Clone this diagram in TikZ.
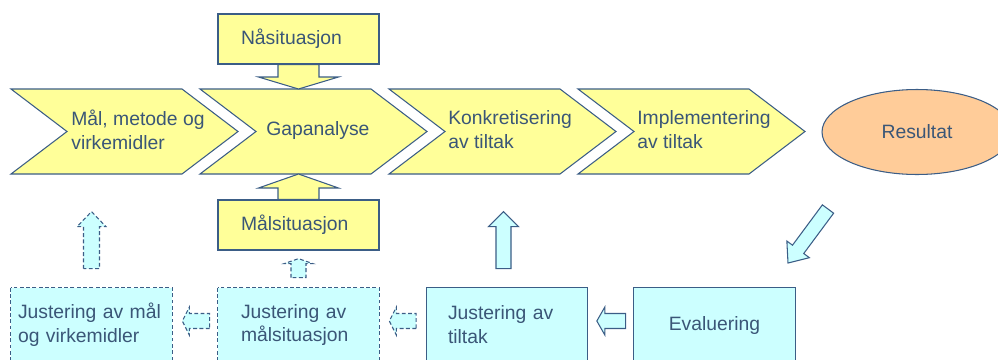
\documentclass[tikz,border=0pt]{standalone}
\usepackage{fontspec}
\setmainfont{Liberation Sans}
\usetikzlibrary{calc,shapes.geometric,backgrounds}
\definecolor{edge}{HTML}{3B5D86}
\definecolor{txt}{HTML}{3A5677}
\definecolor{gul}{HTML}{FFFF99}
\definecolor{lyseblaa}{HTML}{CCFFFF}
\definecolor{oransje}{HTML}{FFCC99}
\tikzset{chev/.style={draw=edge,fill=gul,line width=.6pt},
         jbox/.style={minimum width=3.22cm,minimum height=1.48cm,align=left},
         blk/.style={draw=edge,fill=lyseblaa,line width=.6pt},
         txtf/.style={text=txt,font=\fontsize{11}{13.6}\selectfont},
         dsh/.style={dash pattern=on 2.2pt off 1.4pt}}
% block arrow: [style]{tail}{tip}{shaft half width}{head half width}{head length}, in px
\newcommand{\blkarrow}[6][]{%
  \path ($(#3)!#6*0.569pt!(#2)$) coordinate (hb);
  \draw[#1] ($(#2)!#4*0.569pt!90:(#3)$) -- ($(hb)!#4*0.569pt!90:(#3)$)
    -- ($(hb)!#5*0.569pt!90:(#3)$) -- (#3) -- ($(hb)!#5*0.569pt!-90:(#3)$)
    -- ($(hb)!#4*0.569pt!-90:(#3)$) -- ($(#2)!#4*0.569pt!-90:(#3)$) -- cycle;}

\begin{document}
\begin{tikzpicture}[x=.02cm,y=-.02cm,every node/.style={txtf}]
  \useasboundingbox (0,0) rectangle (998,359);
  % kjeden
  \foreach \x/\dx/\nm/\txt in {11/60/mal/{Mål, metode og\\virkemidler},200/66/gap/Gapanalyse,
      389/59/konk/{Konkretisering\\av tiltak},578/59/impl/{Implementering\\av tiltak}}{
    \draw[chev] (\x,89)--++(171,0)--++(56,42.5)--++(-56,42.5)--++(-171,0)--++(56,-42.5)--cycle;
    \node[align=left,anchor=west,inner sep=0] (\nm) at (\x+\dx,130) {\txt};
    \coordinate (\nm-n) at (\x,89); \coordinate (\nm-s) at (\x,174);}
  \node[ellipse,draw=edge,fill=oransje,line width=.6pt,minimum width=3.8cm,
    minimum height=1.7cm,inner sep=0] (res) at (917,132) {Resultat};

  \node[chev,minimum height=1cm,align=left,text width=2.3cm,inner xsep=.46cm]
    (naa) at (298.5,39) {Nåsituasjon};
  \node[chev,minimum height=1cm,align=left,text width=2.3cm,inner xsep=.46cm]
    (mals) at (298.5,225) {Målsituasjon};

  \node[jbox,text width=2.94cm,inner xsep=.14cm] (j1) at (91.5,325)
    {Justering av mål\\og virkemidler};
  \node[jbox,text width=2.30cm,inner xsep=.46cm] (j2) at (298.5,325)
    {Justering av\\målsituasjon};
  \node[jbox,text width=2.36cm,inner xsep=.42cm] (j3) at (507,325)
    {Justering av\\tiltak};
  \node[jbox,align=center] (eval) at (714.5,325) {Evaluering};
  \begin{scope}[on background layer]
    \foreach \b/\s in {j1/dsh,j2/dsh,j3/solid,eval/solid}
      \draw[blk,\s] (\b.north west) rectangle ($(\b.south east)+(0,20)$);
  \end{scope}

  % piler
  \coordinate (a1) at (naa.south |- gap-n); \coordinate (a2) at (mals.north |- gap-s);
  \blkarrow[chev]{naa.south}{a1}{20.5}{40}{12}
  \blkarrow[chev]{mals.north}{a2}{20.5}{40}{14}
  \coordinate (u1a) at ($(j1.north)+(0,-19)$); \coordinate (u1b) at ($(j1.north)+(0,-76)$);
  \coordinate (u2a) at ($(j2.north)+(0,-10)$); \coordinate (u2b) at ($(j2.north)+(0,-29)$);
  \coordinate (u3a) at ($(j3.north)+(-3.5,-19)$); \coordinate (u3b) at ($(j3.north)+(-3.5,-76)$);
  \blkarrow[blk,dsh]{u1a}{u1b}{8}{14.5}{15}
  \blkarrow[blk,dsh]{u2a}{u2b}{7.5}{14.5}{5}
  \blkarrow[blk]{u3a}{u3b}{7.5}{15}{15}
  \coordinate (l1a) at ($(j2.west)+(-8,-4)$); \coordinate (l1b) at ($(j1.east)+(10,-4)$);
  \coordinate (l2a) at ($(j3.west)+(-10,-4)$); \coordinate (l2b) at ($(j2.east)+(10,-4)$);
  \coordinate (l3a) at ($(eval.west)+(-8,-4)$); \coordinate (l3b) at ($(j3.east)+(9,-4)$);
  \blkarrow[blk,dsh]{l1a}{l1b}{7.5}{14}{7}
  \blkarrow[blk,dsh]{l2a}{l2b}{7.5}{14}{7}
  \blkarrow[blk]{l3a}{l3b}{7.5}{14}{8}
  \coordinate (d1) at ($(res.south)+(-89,34)$); \coordinate (d2) at ($(res.south)+(-129,88)$);
  \blkarrow[blk]{d1}{d2}{7}{14}{17}
\end{tikzpicture}
\end{document}
